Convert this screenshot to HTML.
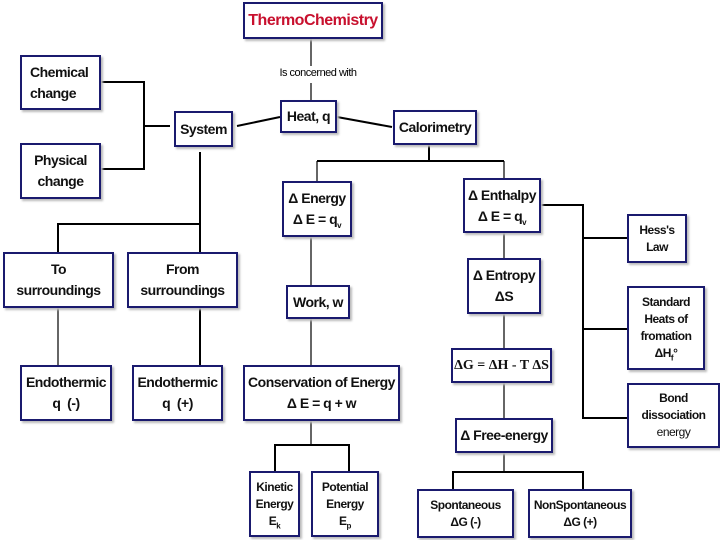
<!DOCTYPE html>
<html><head><meta charset="utf-8"><style>
body{margin:0;width:720px;height:540px;background:#fff;position:relative;overflow:hidden;font-family:"Liberation Sans",Arial,sans-serif}
.b{position:absolute;box-sizing:border-box;border:2px solid #1a1a6e;background:#fff;display:flex;align-items:center;justify-content:center;text-align:center;font-weight:bold;font-size:14px;line-height:21px;letter-spacing:-0.5px;color:#111;box-shadow:2px 2px 2px #bbb}
.s{font-size:12px;line-height:17px;font-weight:bold}
svg{position:absolute;left:0;top:0}
sub{font-size:8px;line-height:0}
</style></head><body>
<svg width="720" height="540" stroke="#000" fill="none">
<g stroke-width="1.2">
<line x1="311" y1="39" x2="311" y2="66"/><line x1="311" y1="83" x2="311" y2="100"/>
<line x1="58" y1="308" x2="58" y2="365"/>
<line x1="317" y1="161" x2="317" y2="181"/>
<line x1="311" y1="237" x2="311" y2="285"/><line x1="311" y1="319" x2="311" y2="365"/>
<line x1="311" y1="421" x2="311" y2="445"/>
<line x1="504" y1="161" x2="504" y2="178"/><line x1="504" y1="233" x2="504" y2="472"/>
</g>
<g stroke-width="2">
<polyline points="101,82 144,82 144,169 101,169"/><line x1="144" y1="126" x2="170" y2="126"/>
<line x1="237" y1="126" x2="280" y2="117"/><line x1="337" y1="117" x2="392" y2="127"/>
<line x1="200" y1="152" x2="200" y2="252"/><polyline points="58,252 58,224 200,224"/>
<line x1="200" y1="308" x2="200" y2="365"/>
<line x1="429" y1="145" x2="429" y2="161"/><line x1="317" y1="161" x2="504" y2="161"/>
<polyline points="275,472 275,445 349,445 349,472"/>
<polyline points="541,205 583,205 583,418 627,418"/>
<line x1="583" y1="238" x2="627" y2="238"/><line x1="583" y1="329" x2="627" y2="329"/>
<polyline points="453,490 453,472 583,472 583,490"/>
</g>
</svg>
<div class="b" style="left:243px;top:2px;width:140px;height:37px;color:#c8102e;font-size:16px"><div>ThermoChemistry</div></div>
<div style="position:absolute;left:270px;top:67px;width:96px;text-align:center;font-size:11px;letter-spacing:-0.5px">Is concerned with</div>
<div class="b" style="left:280px;top:100px;width:57px;height:33px"><div>Heat, q</div></div>
<div class="b" style="left:174px;top:111px;width:59px;height:36px"><div>System</div></div>
<div class="b" style="left:393px;top:110px;width:84px;height:35px"><div>Calorimetry</div></div>
<div class="b" style="left:20px;top:55px;width:81px;height:55px;justify-content:flex-start;text-align:left;padding-left:8px"><div>Chemical<br>change</div></div>
<div class="b" style="left:20px;top:143px;width:81px;height:56px"><div>Physical<br>change</div></div>
<div class="b" style="left:3px;top:252px;width:111px;height:56px"><div>To<br>surroundings</div></div>
<div class="b" style="left:127px;top:252px;width:111px;height:56px"><div>From<br>surroundings</div></div>
<div class="b" style="left:20px;top:365px;width:92px;height:56px"><div>Endothermic<br>q&nbsp; (-)</div></div>
<div class="b" style="left:132px;top:365px;width:91px;height:56px"><div>Endothermic<br>q&nbsp; (+)</div></div>
<div class="b" style="left:282px;top:181px;width:70px;height:56px"><div>Δ Energy<br>Δ E = q<sub>v</sub></div></div>
<div class="b" style="left:286px;top:285px;width:64px;height:34px"><div>Work, w</div></div>
<div class="b" style="left:243px;top:365px;width:157px;height:56px"><div>Conservation of Energy<br>Δ E = q + w</div></div>
<div class="b s" style="left:249px;top:471px;width:51px;height:66px"><div>Kinetic<br>Energy<br>E<sub>k</sub></div></div>
<div class="b s" style="left:311px;top:471px;width:68px;height:66px"><div>Potential<br>Energy<br>E<sub>p</sub></div></div>
<div class="b" style="left:463px;top:178px;width:78px;height:55px"><div>Δ Enthalpy<br>Δ E = q<sub>v</sub></div></div>
<div class="b" style="left:467px;top:258px;width:74px;height:56px"><div>Δ Entropy<br>ΔS</div></div>
<div class="b" style="left:451px;top:348px;width:101px;height:35px;font-family:'Liberation Serif',serif;letter-spacing:0"><div>ΔG = ΔH - T ΔS</div></div>
<div class="b" style="left:455px;top:418px;width:98px;height:35px"><div>Δ Free-energy</div></div>
<div class="b s" style="left:627px;top:214px;width:60px;height:49px"><div>Hess's<br>Law</div></div>
<div class="b s" style="left:627px;top:286px;width:78px;height:84px"><div>Standard<br>Heats of<br>fromation<br>ΔH<sub>f</sub>°</div></div>
<div class="b s" style="left:627px;top:383px;width:93px;height:65px"><div>Bond<br>dissociation<br><span style="font-weight:normal">energy</span></div></div>
<div class="b s" style="left:417px;top:489px;width:97px;height:49px"><div>Spontaneous<br>ΔG (-)</div></div>
<div class="b s" style="left:528px;top:489px;width:104px;height:49px"><div>NonSpontaneous<br>ΔG (+)</div></div>
</body></html>
